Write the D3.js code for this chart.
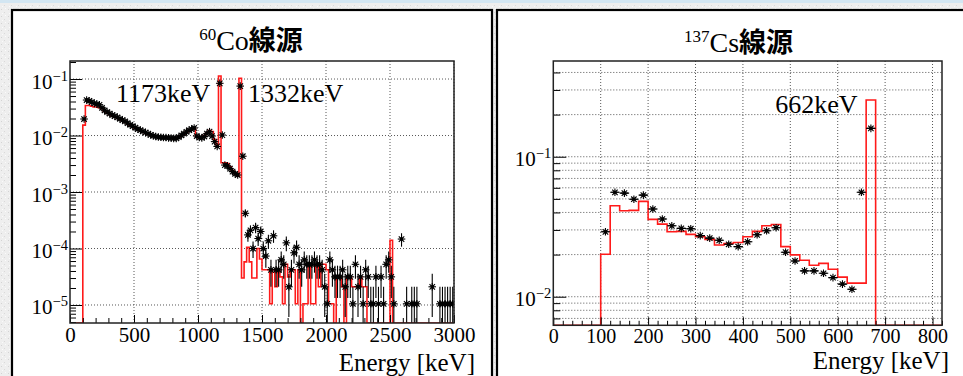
<!DOCTYPE html>
<html><head><meta charset="utf-8">
<script src="https://cdn.jsdelivr.net/npm/d3@7"></script>
<style>
body{margin:0;background:#ececec;}
svg{display:block;}
</style></head><body>
<svg id="c" width="963" height="376"></svg>
<script>
// ---------------- DATA ----------------
const binWidth = 20; // keV
// 60Co measured (black points), 20 keV bins from 0 to 3000 keV
const coData = [
 0,0,0,0,0, 0.0196,0.0425,0.041,0.039,0.037,
 0.036,0.035,0.031,0.028,0.026, 0.0245,0.023,0.022,0.021,0.0198,
 0.0188,0.0178,0.0166,0.0155,0.0146, 0.0138,0.013,0.0124,0.0118,0.0113,
 0.0108,0.0103,0.0099,0.0096,0.0094, 0.0093,0.0092,0.0092,0.0091,0.009,
 0.0089,0.0089,0.0094,0.0101,0.0108, 0.0116,0.0124,0.013,0.0136,0.0098,
 0.0092,0.0091,0.0096,0.0108,0.0117, 0.0098,0.0078,0.0064,0.084,0.0102,
 0.0030,0.0029,0.0026,0.0023,0.0021, 0.0020,0.075,0.0043,4.2e-4,1.74e-4,
 2.1e-4,1.0e-4,2.35e-4,1.5e-4,2.0e-4, 1.0e-4,7.35e-5,1.37e-4,4.2e-5,1.68e-4,
 4.2e-5,4.2e-5,6.3e-5,5.25e-5,1.26e-4, 2.1e-5,4.2e-5,8.4e-5,1.05e-4,5.25e-5,
 4.2e-5,6.3e-5,5.25e-5,5.25e-5,5.25e-5, 6.3e-5,5.25e-5,5.25e-5,4.2e-5,2.1e-5,
 1.05e-5,6.3e-5,4.2e-5,3.15e-5,3.15e-5, 3.15e-5,4.2e-5,2.1e-5,3.15e-5,3.15e-5,
 1.05e-5,5.25e-5,2.1e-5,3.15e-5,1.05e-5, 4.2e-5,3.15e-5,1.05e-5,1.05e-5,3.15e-5,
 1.05e-5,3.15e-5,1.05e-5,5.25e-5,6.3e-5, 3.15e-5,1.05e-5,0,0,1.47e-4,
 0,1.05e-5,0,1.05e-5,1.05e-5, 1.05e-5,0,0,0,0,
 0,2.1e-5,0,0,1.05e-5, 1.05e-5,1.05e-5,1.05e-5,1.05e-5,1.05e-5
];
// 60Co simulation (red histogram)
const coSim = [
 0,0,0,0,0, 0.0153,0.034,0.034,0.033,0.032,
 0.032,0.031,0.030,0.027,0.025, 0.0237,0.0223,0.0213,0.0204,0.0193,
 0.0183,0.0173,0.0162,0.0152,0.0143, 0.0135,0.0128,0.0122,0.0116,0.0111,
 0.0106,0.0101,0.0098,0.0095,0.0093, 0.0092,0.0091,0.0091,0.009,0.0089,
 0.0088,0.0089,0.0093,0.0100,0.0107, 0.0115,0.0123,0.0130,0.0133,0.0097,
 0.0091,0.0093,0.0100,0.0112,0.0122, 0.0118,0.0085,0.0068,0.113,0.0033,
 0.0033,0.0032,0.0028,0.0024,0.0021, 0.0019,0.103,3.0e-5,5.8e-5,1.05e-4,
 5.8e-5,3.0e-5,3.0e-5,1.0e-4,6.5e-5, 4.2e-5,4.2e-5,4.2e-5,1.05e-5,4.2e-5,
 2.1e-5,4.2e-5,3.15e-5,1.05e-5,5.25e-5, 3.15e-5,4.2e-5,4.2e-5,1.05e-5,4.2e-5,
 0,1.05e-5,1.05e-5,5.25e-5,1.05e-5, 1.05e-5,5.25e-5,2.1e-5,5.25e-5,5.25e-5,
 4.2e-5,1.05e-5,1.05e-5,0,3.15e-5, 3.15e-5,2.1e-5,0,3.15e-5,3.15e-5,
 2.1e-5,2.1e-5,2.1e-5,3.15e-5,2.1e-5, 2.1e-5,0,0,0,0,
 0,0,0,0,0, 1.4e-4,0,0,0,0,
 0,0,0,0,0, 0,0,0,0,0,
 0,0,0,0,0, 0,0,0,0,0
];
// 137Cs measured (black points), 20 keV bins from 0 to 820 keV
const csData = [
 0,0,0,0,0, 0.0291,0.0557,0.055,0.0497,0.0532,
 0.0423,0.0359,0.0321,0.0308,0.0306, 0.0273,0.0262,0.0253,0.0237,0.0228,
 0.0247,0.0277,0.0296,0.0311,0.0208, 0.018,0.0153,0.0153,0.0147,0.0137,
 0.0123,0.0113,0.0557,0.1595,0, 0,0,0,0,0, 0
];
// 137Cs simulation (red histogram)
const csSim = [
 0,0,0,0,0, 0.0201,0.0447,0.0411,0.0414,0.048,
 0.0357,0.033,0.0291,0.0293,0.0279, 0.0268,0.0257,0.0234,0.024,0.0244,
 0.0268,0.0293,0.0321,0.0328,0.0228, 0.0199,0.0182,0.0168,0.0173,0.0157,
 0.0138,0.0125,0.0125,0.254,0, 0,0,0,0,0, 0
];
const coCountUnit = 1.05e-5;   // one count in the 60Co normalisation
const csCountUnit = 2e-6;
const coXTicks = [0,500,1000,1500,2000,2500,3000];
const csXTicks = [0,100,200,300,400,500,600,700,800];
const coYTicks = [1e-5,1e-4,1e-3,1e-2,1e-1];
const csYTicks = [1e-2,1e-1];
const coTitle = ["60","Co","線源"];
const csTitle = ["137","Cs","線源"];
const coAnnotations = [{text:"1173keV", e:359, v:0.0396},{text:"1332keV", e:1391, v:0.0396}];
const csAnnotations = [{text:"662keV", e:468, v:0.204}];
const xTitle = "Energy [keV]";

// ---------------- DRAW ----------------
const W=963,H=376;
const SERIF = "'Liberation Serif','Times New Roman',serif";
const CJK = "'Noto Sans CJK JP','Noto Sans CJK SC',sans-serif";
const svg=d3.select("#c");
const defs=svg.append("defs");
const pat=defs.append("pattern").attr("id","paper").attr("width",7).attr("height",7).attr("patternUnits","userSpaceOnUse");
pat.append("rect").attr("width",7).attr("height",7).attr("fill","#eeeeee");
[[1,2,"#d3d3d3"],[4,5,"#d9d9d9"],[5,1,"#fbfbfb"],[2,6,"#fafafa"]].forEach(([x,y,c])=>
  pat.append("rect").attr("x",x).attr("y",y).attr("width",1).attr("height",1).attr("fill",c));
svg.append("rect").attr("width",W).attr("height",H).attr("fill","url(#paper)");
svg.append("rect").attr("width",W).attr("height",3).attr("fill","#d3e6f2");

const panels=[
 {id:"co", box:[12,10,480,380], plot:{l:70,r:454,t:61,b:323}, xDomain:[0,3000], yDomain:[4.8e-6,0.2085],
  data:coData, sim:coSim, unit:coCountUnit, xMajor:coXTicks, xMinorStep:100, yMajor:coYTicks, minorGrid:false,
  title:coTitle, titleX:251, titleY:50, ann:coAnnotations, xtX:475, xtY:371, xLabY:342, tickFont:21,
  yMajLen:12, yMinLen:6, xMajLen:8, xMinLen:5},
 {id:"cs", box:[497,10,480,380], plot:{l:553.3,r:942,t:61,b:325.3}, xDomain:[0,820], yDomain:[0.00625,0.483],
  data:csData, sim:csSim, unit:csCountUnit, xMajor:csXTicks, xMinorStep:20, yMajor:csYTicks, minorGrid:true,
  title:csTitle, titleX:738.5, titleY:51.5, ann:csAnnotations, xtX:949, xtY:369, xLabY:342.5, tickFont:20,
  yMajLen:13, yMinLen:7, xMajLen:8, xMinLen:4.5}
];

panels.forEach(P=>{
  const g=svg.append("g");
  g.append("rect").attr("x",P.box[0]).attr("y",P.box[1]).attr("width",P.box[2]).attr("height",P.box[3])
   .attr("fill","#fff").attr("stroke","#000").attr("stroke-width",2.2);
  const p=P.plot;
  const x=d3.scaleLinear().domain(P.xDomain).range([p.l,p.r]);
  const y=d3.scaleLog().domain(P.yDomain).range([p.b,p.t]);
  const yMinor=[];
  for(let d=-7; d<=0; d++) for(let k=2;k<=9;k++){const v=k*Math.pow(10,d); if(v>=P.yDomain[0]&&v<=P.yDomain[1]) yMinor.push(v);}
  const xMinor=d3.range(P.xDomain[0],P.xDomain[1]+0.001,P.xMinorStep).filter(v=>!P.xMajor.includes(v));
  // grid
  const grid=g.append("g").attr("stroke","#444").attr("stroke-width",0.9).attr("stroke-dasharray","1,2");
  P.xMajor.filter(v=>v>P.xDomain[0]).forEach(v=>grid.append("line").attr("x1",x(v)).attr("x2",x(v)).attr("y1",p.t).attr("y2",p.b));
  const gy=P.minorGrid? P.yMajor.concat(yMinor):P.yMajor;
  gy.forEach(v=>grid.append("line").attr("x1",p.l).attr("x2",p.r).attr("y1",y(v)).attr("y2",y(v)));

  const clipId="clip"+P.id;
  defs.append("clipPath").attr("id",clipId).append("rect").attr("x",p.l).attr("y",p.t-1).attr("width",p.r-p.l).attr("height",p.b-p.t+1);
  const plotG=g.append("g").attr("clip-path",`url(#${clipId})`);
  // simulation histogram
  const pts=[[x(0),p.b]];
  P.sim.forEach((v,i)=>{const yy=v>0?y(v):p.b; pts.push([x(i*binWidth),yy],[x((i+1)*binWidth),yy]);});
  pts.push([x(P.sim.length*binWidth),p.b]);
  plotG.append("path").attr("d",d3.line()(pts)).attr("fill","none").attr("stroke","#ff1a1a").attr("stroke-width",1.6);
  // data points
  const dat=P.data.map((v,i)=>({v,i})).filter(d=>d.v>0);
  const dg=plotG.append("g").attr("stroke","#000").attr("stroke-width",1.1);
  const pt=dg.selectAll("g.pt").data(dat).join("g").attr("class","pt");
  pt.append("line").attr("x1",d=>x(d.i*binWidth)).attr("x2",d=>x((d.i+1)*binWidth)).attr("y1",d=>y(d.v)).attr("y2",d=>y(d.v));
  pt.append("line").attr("x1",d=>x((d.i+.5)*binWidth)).attr("x2",d=>x((d.i+.5)*binWidth))
    .attr("y1",d=>y(d.v+Math.sqrt(d.v/P.unit)*P.unit))
    .attr("y2",d=>{const lo=d.v-Math.sqrt(d.v/P.unit)*P.unit; return lo>P.yDomain[0]?y(lo):p.b+2;});
  const r=3.8, q=r*0.72;
  [[-r,0,r,0],[0,-r,0,r],[-q,-q,q,q],[-q,q,q,-q]].forEach(([a,b,c,e])=>
    pt.append("line").attr("x1",d=>x((d.i+.5)*binWidth)+a).attr("y1",d=>y(d.v)+b)
      .attr("x2",d=>x((d.i+.5)*binWidth)+c).attr("y2",d=>y(d.v)+e));
  pt.append("rect").attr("x",d=>x((d.i+.5)*binWidth)-1.6).attr("y",d=>y(d.v)-1.6).attr("width",3.2).attr("height",3.2)
    .attr("fill","#000").attr("stroke","none");

  // axes (ROOT style: ticks inside)
  const axXmin=g.append("g").attr("transform",`translate(0,${p.b})`);
  axXmin.call(d3.axisBottom(x).tickValues(xMinor).tickSize(-P.xMinLen).tickFormat(""));
  const axX=g.append("g").attr("transform",`translate(0,${p.b})`);
  axX.call(d3.axisBottom(x).tickValues(P.xMajor).tickSize(-P.xMajLen).tickFormat(d3.format("d")));
  const axYmin=g.append("g").attr("transform",`translate(${p.l},0)`);
  axYmin.call(d3.axisLeft(y).tickValues(yMinor).tickSize(-P.yMinLen).tickFormat(""));
  const axY=g.append("g").attr("transform",`translate(${p.l},0)`);
  axY.call(d3.axisLeft(y).tickValues(P.yMajor).tickSize(-P.yMajLen).tickFormat(""));
  [axXmin,axX,axYmin,axY].forEach(a=>{
    a.attr("font-family",SERIF);
    a.selectAll(".domain").remove();
    a.selectAll("line").attr("stroke","#000").attr("stroke-width",1);
  });
  axX.selectAll("text").style("font-family",SERIF).style("font-size",P.tickFont+"px").attr("fill","#000")
     .attr("dy",null).attr("y",P.xLabY-p.b);
  axY.selectAll("text").remove();
  P.yMajor.forEach(v=>{
    const t=g.append("text").attr("x",p.l-2).attr("y",y(v)+9.5).attr("text-anchor","end")
      .style("font-family",SERIF).style("font-size","21px").attr("fill","#000");
    t.append("tspan").text("10");
    t.append("tspan").style("font-size","14.5px").attr("dy",-8).text("−"+Math.round(-Math.log10(v)));
  });
  // frame
  g.append("rect").attr("x",p.l).attr("y",p.t).attr("width",p.r-p.l).attr("height",p.b-p.t)
   .attr("fill","none").attr("stroke","#222").attr("stroke-width",1.5);
  // title
  const tt=g.append("text").attr("x",P.titleX).attr("y",P.titleY).attr("text-anchor","middle")
    .style("font-family",SERIF).style("font-size","28px").attr("fill","#000");
  tt.append("tspan").style("font-size","17px").attr("dy",-10).text(P.title[0]);
  tt.append("tspan").attr("dy",10).text(P.title[1]);
  tt.append("tspan").style("font-family",CJK).style("font-size","27px").style("font-weight","600").text(P.title[2]);
  // annotations
  P.ann.forEach(a=>g.append("text").attr("x",x(a.e)).attr("y",y(a.v)).style("font-family",SERIF)
    .style("font-size","26px").attr("fill","#000").text(a.text));
  // x title
  g.append("text").attr("x",P.xtX).attr("y",P.xtY).attr("text-anchor","end").style("font-family",SERIF)
    .style("font-size","25px").attr("fill","#000").text(xTitle);
});
</script>
</body></html>
